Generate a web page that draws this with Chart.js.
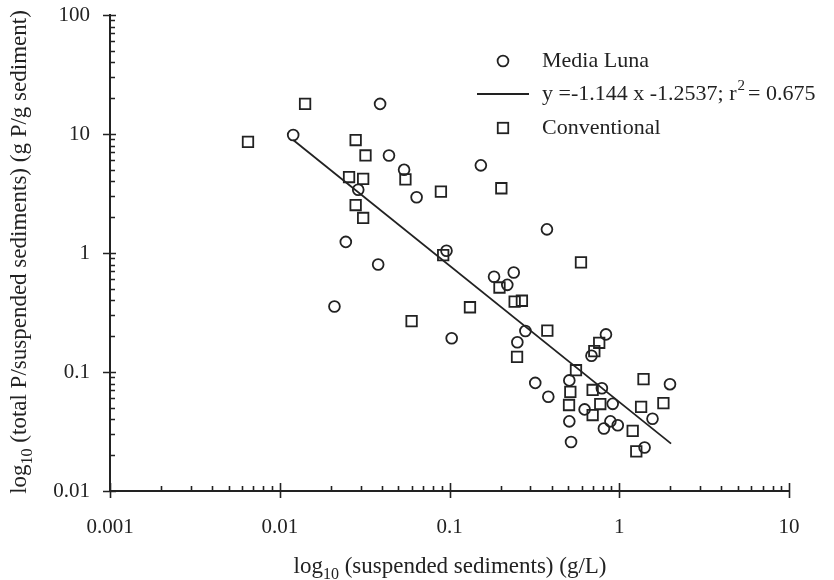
<!DOCTYPE html>
<html>
<head>
<meta charset="utf-8">
<script src="https://cdn.jsdelivr.net/npm/chart.js"></script>
<style>
  body { margin: 0; background: #fff; }
  #wrap { width: 834px; height: 580px; }
</style>
</head>
<body>
<div id="wrap"><canvas id="sedChart" width="834" height="580"></canvas></div>
<script>
// Media Luna samples (g/L, g P/g sediment)
const mediaLunaX = [0.012, 0.039, 0.044, 0.054, 0.064, 0.029, 0.0245, 0.038, 0.021, 0.153, 0.096, 0.103,
  0.375, 0.183, 0.219, 0.239, 0.28, 0.251, 0.32, 0.382, 0.508, 0.508, 0.52, 0.625, 0.686, 0.835,
  0.79, 0.915, 0.812, 0.887, 0.98, 1.57, 1.41, 1.99];
const mediaLunaY = [9.8, 17.9, 6.6, 5.0, 2.94, 3.4, 1.24, 0.80, 0.355, 5.45, 1.045, 0.192,
  1.58, 0.632, 0.54, 0.686, 0.221, 0.178, 0.081, 0.062, 0.085, 0.0385, 0.0258, 0.0485, 0.137, 0.207,
  0.073, 0.054, 0.0335, 0.0385, 0.0357, 0.0405, 0.0232, 0.079];

// Conventional samples
const conventionalX = [0.0065, 0.0141, 0.028, 0.032, 0.0256, 0.031, 0.028, 0.031, 0.055, 0.089, 0.202,
  0.0918, 0.197, 0.242, 0.267, 0.132, 0.0598, 0.377, 0.595, 0.25, 0.556, 0.762, 0.713,
  0.515, 0.506, 0.697, 0.773, 0.697, 1.39, 1.345, 1.82, 1.2, 1.26];
const conventionalY = [8.6, 17.9, 8.9, 6.6, 4.35, 4.2, 2.53, 1.97, 4.15, 3.28, 3.5,
  0.96, 0.513, 0.39, 0.397, 0.35, 0.268, 0.223, 0.835, 0.134, 0.1035, 0.176, 0.15,
  0.068, 0.0528, 0.0706, 0.0538, 0.0435, 0.087, 0.051, 0.0548, 0.032, 0.0215];

// regression line end points
const fitX = [0.012, 2.02];
const fitY = [8.9, 0.025];

const xTickValues = [0.001, 0.01, 0.1, 1, 10];
const xTickLabels = ['0.001', '0.01', '0.1', '1', '10'];
const yTickValues = [0.01, 0.1, 1, 10, 100];
const yTickLabels = ['0.01', '0.1', '1', '10', '100'];
const minorSteps = [2, 3, 4, 5, 6, 7, 8, 9];

const legendLabels = ['Media Luna', 'y =-1.144 x -1.2537; r', 'Conventional'];
const xTitle = ['log', '10', ' (suspended sediments) (g/L)'];
const yTitle = ['log', '10', ' (total P/suspended sediments) (g P/g sediment)'];

const ink = '#222';
const serif = "'Liberation Serif', 'Times New Roman', serif";

function toPoints(xs, ys) {
  return xs.map((x, i) => ({ x: x, y: ys[i] }));
}

// title with a subscript part, drawn centred on the current origin
function drawSubTitle(ctx, parts, size) {
  ctx.font = size + 'px ' + serif;
  const w0 = ctx.measureText(parts[0]).width;
  ctx.font = Math.round(size * 0.68) + 'px ' + serif;
  const w1 = ctx.measureText(parts[1]).width;
  ctx.font = size + 'px ' + serif;
  const w2 = ctx.measureText(parts[2]).width;
  const total = w0 + w1 + w2;
  let x = -total / 2;
  ctx.textAlign = 'left';
  ctx.textBaseline = 'alphabetic';
  ctx.fillText(parts[0], x, 0);
  x += w0;
  ctx.font = Math.round(size * 0.68) + 'px ' + serif;
  ctx.fillText(parts[1], x, size * 0.28);
  x += w1;
  ctx.font = size + 'px ' + serif;
  ctx.fillText(parts[2], x, 0);
}

const extrasPlugin = {
  id: 'extras',
  afterDraw(chart) {
    const ctx = chart.ctx;
    const xs = chart.scales.x;
    const ys = chart.scales.y;
    const area = chart.chartArea;
    ctx.save();
    ctx.strokeStyle = ink;
    ctx.fillStyle = ink;
    ctx.lineWidth = 1.6;

    // major ticks cross the axis, minor ticks point inward
    ctx.beginPath();
    xTickValues.forEach(v => {
      const px = Math.round(xs.getPixelForValue(v)) + 0.5;
      ctx.moveTo(px, area.bottom - 8);
      ctx.lineTo(px, area.bottom + 7);
    });
    xTickValues.slice(0, -1).forEach(d => {
      minorSteps.forEach(m => {
        const px = Math.round(xs.getPixelForValue(d * m)) + 0.5;
        ctx.moveTo(px, area.bottom - 5);
        ctx.lineTo(px, area.bottom);
      });
    });
    yTickValues.forEach(v => {
      const py = Math.round(ys.getPixelForValue(v)) + 0.5;
      ctx.moveTo(area.left - 7, py);
      ctx.lineTo(area.left + 6, py);
    });
    yTickValues.slice(0, -1).forEach(d => {
      minorSteps.forEach(m => {
        const py = Math.round(ys.getPixelForValue(d * m)) + 0.5;
        ctx.moveTo(area.left, py);
        ctx.lineTo(area.left + 5, py);
      });
    });
    ctx.stroke();

    // axis titles
    ctx.save();
    ctx.translate(450, 573);
    drawSubTitle(ctx, xTitle, 23);
    ctx.restore();
    ctx.save();
    ctx.translate(26, 252);
    ctx.rotate(-Math.PI / 2);
    drawSubTitle(ctx, yTitle, 23);
    ctx.restore();

    // legend
    const ds = chart.data.datasets;
    ctx.lineWidth = ds[0].borderWidth;
    ctx.beginPath();
    ctx.arc(503, 61, ds[0].pointRadius, 0, Math.PI * 2);
    ctx.stroke();
    ctx.lineWidth = ds[1].borderWidth;
    ctx.beginPath();
    ctx.moveTo(477, 94);
    ctx.lineTo(529, 94);
    ctx.stroke();
    const half = ds[2].pointRadius * Math.SQRT1_2;
    ctx.lineWidth = ds[2].borderWidth;
    ctx.strokeRect(503 - half, 128 - half, half * 2, half * 2);

    ctx.font = '22px ' + serif;
    ctx.textAlign = 'left';
    ctx.textBaseline = 'middle';
    ctx.fillText(legendLabels[0], 542, 61);
    ctx.fillText(legendLabels[2], 542, 128);
    ctx.fillText(legendLabels[1], 542, 94);
    let lx = 542 + ctx.measureText(legendLabels[1]).width + 1;
    ctx.font = '15px ' + serif;
    ctx.fillText('2', lx, 86);
    lx += ctx.measureText('2').width + 3;
    ctx.font = '22px ' + serif;
    ctx.fillText('= 0.675', lx, 94);
    ctx.restore();
  }
};

new Chart(document.getElementById('sedChart'), {
  type: 'scatter',
  data: {
    datasets: [
      {
        label: 'Media Luna',
        data: toPoints(mediaLunaX, mediaLunaY),
        pointStyle: 'circle',
        pointRadius: 5.4,
        borderWidth: 1.8,
        borderColor: ink,
        backgroundColor: 'rgba(0,0,0,0)'
      },
      {
        label: 'fit',
        type: 'line',
        data: toPoints(fitX, fitY),
        borderColor: ink,
        borderWidth: 1.8,
        pointRadius: 0,
        showLine: true,
        fill: false
      },
      {
        label: 'Conventional',
        data: toPoints(conventionalX, conventionalY),
        pointStyle: 'rect',
        pointRadius: 7.4,
        borderWidth: 1.8,
        borderColor: ink,
        backgroundColor: 'rgba(0,0,0,0)'
      }
    ]
  },
  options: {
    responsive: false,
    animation: false,
    events: [],
    layout: { padding: { top: 15, right: 45, left: 0, bottom: 0 } },
    plugins: {
      legend: { display: false },
      tooltip: { enabled: false }
    },
    scales: {
      x: {
        type: 'logarithmic',
        min: 0.001,
        max: 10,
        grid: { display: false, drawTicks: false },
        border: { display: true, color: ink, width: 2 },
        afterBuildTicks: s => { s.ticks = xTickValues.map(v => ({ value: v })); },
        afterFit: s => { s.height = 89; },
        ticks: {
          autoSkip: false,
          maxRotation: 0,
          padding: 24,
          color: ink,
          font: { family: serif, size: 21 },
          callback: (v, i) => xTickLabels[i]
        }
      },
      y: {
        type: 'logarithmic',
        min: 0.01,
        max: 100,
        // tick length (not drawn) gives the label gap without padding the top
        grid: { display: false, drawTicks: true, tickLength: 20 },
        border: { display: true, color: ink, width: 2 },
        afterBuildTicks: s => { s.ticks = yTickValues.map(v => ({ value: v })); },
        afterFit: s => { s.width = 110; },
        ticks: {
          autoSkip: false,
          padding: 0,
          color: ink,
          font: { family: serif, size: 21 },
          callback: (v, i) => yTickLabels[i]
        }
      }
    }
  },
  plugins: [extrasPlugin]
});
</script>
</body>
</html>
